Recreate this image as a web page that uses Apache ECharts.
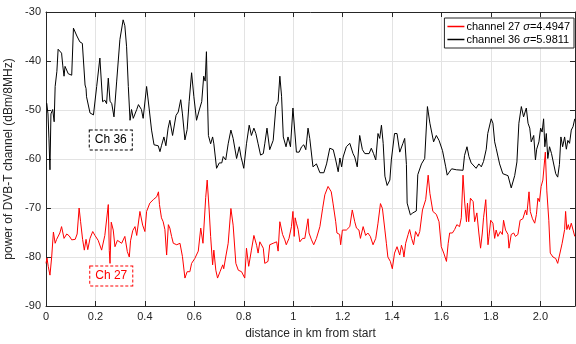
<!DOCTYPE html>
<html>
<head>
<meta charset="utf-8">
<script src="https://cdn.jsdelivr.net/npm/echarts@6/dist/echarts.min.js"></script>
<style>
  html, body { margin: 0; padding: 0; background: #fff; }
  #chart { width: 576px; height: 344px; }
</style>
</head>
<body>
<div id="chart"></div>
<script>
// channel 36 (black)
const dist36 = [0.003, 0.008, 0.012, 0.016, 0.020, 0.027, 0.033, 0.037, 0.044, 0.049, 0.063, 0.068, 0.073, 0.077, 0.084, 0.090, 0.104, 0.111, 0.125, 0.137, 0.147, 0.158, 0.162, 0.164, 0.178, 0.192, 0.205, 0.218, 0.229, 0.238, 0.245, 0.252, 0.259, 0.266, 0.275, 0.286, 0.299, 0.312, 0.319, 0.326, 0.333, 0.340, 0.346, 0.353, 0.367, 0.374, 0.386, 0.393, 0.407, 0.417, 0.427, 0.437, 0.454, 0.461, 0.467, 0.477, 0.485, 0.494, 0.501, 0.512, 0.526, 0.535, 0.545, 0.552, 0.562, 0.571, 0.579, 0.589, 0.598, 0.609, 0.620, 0.630, 0.638, 0.644, 0.649, 0.652, 0.657, 0.666, 0.674, 0.679, 0.690, 0.701, 0.711, 0.717, 0.727, 0.737, 0.748, 0.757, 0.771, 0.782, 0.789, 0.795, 0.800, 0.811, 0.822, 0.831, 0.841, 0.849, 0.858, 0.868, 0.879, 0.885, 0.894, 0.905, 0.919, 0.930, 0.939, 0.946, 0.953, 0.960, 0.971, 0.979, 0.989, 0.999, 1.006, 1.013, 1.024, 1.034, 1.043, 1.051, 1.060, 1.067, 1.080, 1.094, 1.108, 1.124, 1.135, 1.148, 1.162, 1.172, 1.182, 1.189, 1.196, 1.202, 1.215, 1.229, 1.242, 1.249, 1.259, 1.269, 1.280, 1.290, 1.297, 1.307, 1.316, 1.325, 1.334, 1.343, 1.350, 1.357, 1.364, 1.371, 1.380, 1.391, 1.397, 1.410, 1.420, 1.431, 1.444, 1.451, 1.458, 1.461, 1.474, 1.484, 1.498, 1.504, 1.519, 1.532, 1.543, 1.553, 1.561, 1.568, 1.579, 1.590, 1.604, 1.617, 1.623, 1.631, 1.641, 1.660, 1.687, 1.693, 1.703, 1.711, 1.720, 1.727, 1.740, 1.751, 1.761, 1.770, 1.781, 1.787, 1.801, 1.808, 1.815, 1.821, 1.835, 1.848, 1.869, 1.882, 1.896, 1.905, 1.913, 1.923, 1.932, 1.943, 1.950, 1.957, 1.963, 1.973, 1.980, 1.985, 1.994, 2.001, 2.007, 2.013, 2.018, 2.024, 2.030, 2.037, 2.045, 2.062, 2.070, 2.077, 2.083, 2.090, 2.098, 2.105, 2.111, 2.118, 2.125, 2.132, 2.139];
const power36 = [-48.6, -50.8, -55.9, -62.2, -50.8, -49.9, -52.4, -45.2, -42.1, -37.6, -38.4, -41.0, -43.1, -41.1, -41.5, -42.6, -42.9, -33.3, -34.9, -36.1, -36.4, -44.9, -45.6, -47.3, -50.6, -51.0, -45.2, -39.4, -48.3, -48.0, -48.7, -43.5, -48.2, -48.7, -51.4, -44.1, -35.6, -31.6, -32.8, -37.1, -45.2, -52.1, -49.9, -51.7, -49.9, -48.9, -49.9, -51.7, -45.2, -49.6, -54.1, -57.1, -57.3, -58.5, -57.3, -55.5, -57.3, -53.7, -52.1, -55.2, -51.1, -50.4, -47.9, -50.8, -56.1, -54.0, -48.3, -42.4, -47.2, -52.1, -50.0, -48.3, -43.1, -44.1, -38.1, -44.9, -55.2, -56.9, -55.5, -56.9, -61.9, -60.8, -60.8, -59.5, -60.2, -56.9, -54.1, -55.8, -59.9, -57.5, -59.6, -60.8, -61.9, -56.9, -53.1, -55.2, -53.7, -54.8, -56.9, -59.2, -58.9, -56.9, -53.7, -58.1, -56.2, -49.3, -48.3, -43.1, -47.2, -55.5, -57.5, -55.5, -57.5, -49.6, -49.3, -58.6, -58.6, -57.5, -57.1, -58.1, -53.7, -55.8, -61.6, -61.0, -62.8, -62.8, -61.0, -57.8, -58.1, -60.2, -62.6, -59.8, -61.6, -59.6, -57.5, -56.8, -58.9, -59.6, -61.6, -55.2, -58.1, -58.9, -58.6, -58.9, -57.8, -58.9, -60.2, -54.8, -55.8, -53.1, -56.8, -63.5, -65.4, -64.3, -60.2, -54.8, -54.8, -58.6, -56.8, -55.8, -61.1, -69.0, -71.4, -71.0, -70.6, -63.2, -61.0, -59.9, -49.3, -52.7, -52.5, -56.5, -55.2, -56.2, -58.3, -61.6, -63.3, -62.7, -62.0, -62.2, -62.3, -59.3, -57.5, -59.5, -60.8, -61.0, -61.9, -61.0, -61.6, -60.5, -58.0, -54.8, -51.8, -52.7, -56.5, -57.8, -61.0, -63.0, -63.4, -65.9, -63.4, -60.6, -52.7, -49.3, -51.4, -49.6, -52.7, -53.7, -56.5, -55.2, -60.2, -58.0, -56.5, -53.7, -54.5, -51.8, -57.5, -54.8, -59.9, -57.5, -58.9, -63.0, -63.7, -61.1, -55.5, -57.5, -55.5, -58.0, -56.2, -56.8, -54.1, -53.4, -51.8];

// channel 27 (red)
const dist27 = [0.000, 0.004, 0.009, 0.016, 0.023, 0.030, 0.037, 0.043, 0.049, 0.056, 0.063, 0.073, 0.084, 0.094, 0.104, 0.118, 0.126, 0.134, 0.140, 0.148, 0.155, 0.162, 0.169, 0.178, 0.189, 0.198, 0.211, 0.225, 0.238, 0.245, 0.252, 0.256, 0.259, 0.264, 0.272, 0.279, 0.289, 0.296, 0.306, 0.319, 0.329, 0.337, 0.342, 0.351, 0.360, 0.367, 0.380, 0.391, 0.400, 0.407, 0.420, 0.434, 0.448, 0.455, 0.459, 0.467, 0.474, 0.481, 0.488, 0.495, 0.501, 0.508, 0.515, 0.529, 0.542, 0.552, 0.562, 0.571, 0.582, 0.589, 0.602, 0.616, 0.626, 0.635, 0.646, 0.652, 0.660, 0.666, 0.674, 0.679, 0.687, 0.694, 0.704, 0.715, 0.719, 0.727, 0.737, 0.748, 0.757, 0.768, 0.778, 0.791, 0.804, 0.811, 0.820, 0.831, 0.841, 0.852, 0.858, 0.865, 0.879, 0.885, 0.898, 0.905, 0.919, 0.933, 0.939, 0.946, 0.957, 0.966, 0.972, 0.983, 0.993, 0.999, 1.004, 1.008, 1.013, 1.020, 1.027, 1.038, 1.047, 1.053, 1.060, 1.064, 1.074, 1.083, 1.094, 1.108, 1.119, 1.128, 1.141, 1.154, 1.161, 1.172, 1.177, 1.188, 1.192, 1.199, 1.215, 1.229, 1.239, 1.249, 1.256, 1.266, 1.272, 1.283, 1.293, 1.302, 1.312, 1.323, 1.334, 1.343, 1.353, 1.361, 1.371, 1.377, 1.383, 1.393, 1.401, 1.410, 1.420, 1.431, 1.438, 1.444, 1.448, 1.455, 1.465, 1.471, 1.479, 1.487, 1.495, 1.505, 1.512, 1.523, 1.536, 1.546, 1.553, 1.565, 1.579, 1.590, 1.599, 1.609, 1.620, 1.627, 1.633, 1.644, 1.653, 1.662, 1.673, 1.680, 1.687, 1.694, 1.701, 1.705, 1.710, 1.717, 1.728, 1.734, 1.743, 1.751, 1.758, 1.765, 1.770, 1.779, 1.788, 1.792, 1.799, 1.808, 1.815, 1.821, 1.828, 1.838, 1.846, 1.851, 1.859, 1.869, 1.873, 1.882, 1.892, 1.899, 1.909, 1.918, 1.929, 1.940, 1.945, 1.954, 1.959, 1.968, 1.977, 1.984, 1.990, 1.996, 2.003, 2.010, 2.020, 2.026, 2.034, 2.040, 2.051, 2.062, 2.070, 2.077, 2.088, 2.098, 2.102, 2.107, 2.113, 2.118, 2.125, 2.132, 2.139];
const power27 = [-81.3, -80.2, -81.9, -83.7, -80.0, -74.9, -77.2, -76.4, -76.7, -75.1, -73.8, -76.2, -75.3, -75.7, -76.5, -76.4, -75.3, -70.0, -72.8, -76.4, -78.6, -76.4, -78.5, -76.2, -74.8, -75.6, -76.6, -78.6, -75.6, -75.6, -69.3, -78.7, -81.3, -72.9, -74.5, -77.9, -76.6, -76.6, -77.2, -75.8, -78.9, -80.0, -76.7, -74.6, -73.8, -75.6, -70.7, -73.5, -74.8, -70.7, -69.0, -68.3, -67.7, -66.7, -69.3, -72.0, -72.8, -74.4, -79.6, -73.4, -74.1, -75.8, -77.2, -77.5, -77.2, -79.9, -84.3, -83.0, -83.0, -81.3, -80.3, -78.8, -74.1, -77.2, -67.9, -64.3, -70.4, -75.8, -81.6, -78.6, -82.7, -84.3, -83.0, -81.6, -82.4, -80.0, -77.2, -70.1, -73.5, -81.3, -82.7, -83.0, -84.3, -78.2, -81.9, -78.6, -75.6, -77.6, -79.2, -76.9, -78.2, -81.3, -80.9, -77.5, -77.2, -76.9, -78.8, -72.8, -75.4, -76.5, -77.5, -76.2, -73.8, -70.7, -75.8, -72.0, -73.1, -74.4, -76.9, -76.2, -76.2, -75.8, -72.2, -75.1, -76.5, -77.5, -76.2, -73.8, -70.1, -67.3, -65.6, -66.7, -69.0, -72.8, -75.1, -75.4, -77.5, -74.5, -74.5, -73.8, -70.4, -72.8, -74.1, -74.5, -76.2, -73.8, -75.6, -75.1, -75.8, -77.5, -76.2, -73.1, -69.1, -70.1, -74.5, -77.2, -80.0, -80.9, -82.4, -79.2, -77.9, -79.6, -77.6, -78.6, -80.0, -77.2, -75.4, -74.4, -76.2, -77.5, -74.8, -75.8, -74.8, -70.4, -68.3, -63.3, -67.0, -70.7, -71.3, -72.8, -77.9, -79.2, -80.9, -77.2, -75.1, -75.1, -74.4, -73.4, -73.8, -72.0, -63.3, -69.0, -72.8, -69.0, -72.8, -68.0, -68.7, -72.8, -71.0, -75.1, -78.2, -75.1, -72.0, -68.3, -77.5, -75.8, -72.5, -73.1, -76.2, -74.5, -75.8, -74.8, -75.4, -72.5, -74.5, -75.4, -78.2, -75.4, -75.1, -75.8, -75.4, -72.5, -72.2, -70.4, -71.4, -66.7, -70.7, -72.2, -73.1, -71.3, -68.0, -68.7, -65.6, -64.3, -58.6, -66.5, -72.5, -79.2, -80.0, -80.3, -81.3, -81.3, -77.2, -74.4, -70.7, -74.4, -73.4, -74.4, -73.1, -72.8, -75.8];

const seriesNames = ['channel 27', 'channel 36'];
const sigmas = ['4.4947', '5.9811'];
const xTicks = [0, 0.2, 0.4, 0.6, 0.8, 1, 1.2, 1.4, 1.6, 1.8, 2.0];

const axisColor = '#262626';
const font = '"Liberation Sans", Arial, Helvetica, sans-serif';

function pairs(xs, ys) {
  let out = [];
  for (let i = 0; i < xs.length; i++) {
    out.push([xs[i], ys[i]]);
  }
  return out;
}

function boxLabel(text, color) {
  return {
    show: true,
    position: 'inside',
    formatter: text,
    color: color,
    fontFamily: font,
    fontSize: 12,
    borderColor: color,
    borderWidth: 1,
    borderType: [3, 2],
    padding: [4, 5, 3, 5],
    backgroundColor: '#fff'
  };
}

const chart = echarts.init(document.getElementById('chart'), null, { renderer: 'canvas' });

const xBase = {
  type: 'value',
  min: 0,
  max: 2.14,
  interval: 0.2,
  axisLine: { show: true, lineStyle: { color: axisColor, width: 1 } },
  axisTick: { show: true, inside: true, length: 5, lineStyle: { color: axisColor } }
};
const yBase = {
  type: 'value',
  min: -90,
  max: -30,
  interval: 10,
  axisLine: { show: true, onZero: false, lineStyle: { color: axisColor, width: 1 } },
  axisTick: { show: true, inside: true, length: 5, lineStyle: { color: axisColor } }
};

const option = {
  animation: false,
  backgroundColor: '#fff',
  textStyle: { fontFamily: font },
  grid: { left: 46, right: 1, top: 12, bottom: 38, containLabel: false, outerBoundsMode: 'none' },
  xAxis: [
    Object.assign({}, xBase, {
      position: 'bottom',
      name: 'distance in km from start',
      nameLocation: 'middle',
      nameGap: 22,
      nameTextStyle: { color: axisColor, fontSize: 12, fontFamily: font },
      axisLabel: {
        color: axisColor, fontSize: 11, fontFamily: font, margin: 5,
        showMaxLabel: false,
        formatter: (v) => {
          const t = xTicks.find((k) => Math.abs(k - v) < 1e-6);
          if (t === undefined) return '';
          if (t === 0) return '0';
          if (t === 1) return '1';
          return t.toFixed(1);
        }
      },
      splitLine: { show: true, lineStyle: { color: '#e3e3e3', width: 1 } }
    }),
    Object.assign({}, xBase, {
      position: 'top',
      axisLabel: { show: false },
      splitLine: { show: false }
    })
  ],
  yAxis: [
    Object.assign({}, yBase, {
      position: 'left',
      name: 'power of DVB-T channel (dBm/8MHz)',
      nameLocation: 'middle',
      nameGap: 28,
      nameTextStyle: { color: axisColor, fontSize: 12, fontFamily: font },
      axisLabel: { color: axisColor, fontSize: 11, fontFamily: font, margin: 5 },
      splitLine: { show: true, lineStyle: { color: '#e3e3e3', width: 1 } }
    }),
    Object.assign({}, yBase, {
      position: 'right',
      axisLabel: { show: false },
      splitLine: { show: false }
    })
  ],
  legend: {
    orient: 'vertical',
    right: 2,
    top: 18,
    padding: [3, 4, 3, 3],
    itemGap: 2,
    itemWidth: 17,
    itemHeight: 1.5,
    icon: 'rect',
    backgroundColor: '#fff',
    borderColor: axisColor,
    borderWidth: 1,
    borderRadius: 0,
    data: seriesNames,
    formatter: (name) => {
      const i = seriesNames.indexOf(name);
      return name + ' {i|σ}=' + sigmas[i];
    },
    textStyle: {
      color: '#000',
      fontSize: 11,
      fontFamily: font,
      padding: [0, 0, 0, -3],
      rich: { i: { fontStyle: 'italic', fontSize: 11, fontFamily: font, color: '#000' } }
    }
  },
  series: [
    {
      name: seriesNames[0],
      type: 'line',
      data: pairs(dist27, power27),
      showSymbol: false,
      symbol: 'none',
      lineStyle: { color: '#ff0000', width: 1 },
      itemStyle: { color: '#ff0000' },
      z: 3,
      markPoint: {
        symbol: 'rect',
        symbolSize: 0,
        data: [{ coord: [0.264, -83.9], label: boxLabel('Ch 27', '#ff0000') }]
      }
    },
    {
      name: seriesNames[1],
      type: 'line',
      data: pairs(dist36, power36),
      showSymbol: false,
      symbol: 'none',
      lineStyle: { color: '#000000', width: 1 },
      itemStyle: { color: '#000000' },
      z: 2,
      markPoint: {
        symbol: 'rect',
        symbolSize: 0,
        data: [{ coord: [0.262, -56.1], label: boxLabel('Ch 36', '#000000') }]
      }
    }
  ]
};

chart.setOption(option);
</script>
</body>
</html>
